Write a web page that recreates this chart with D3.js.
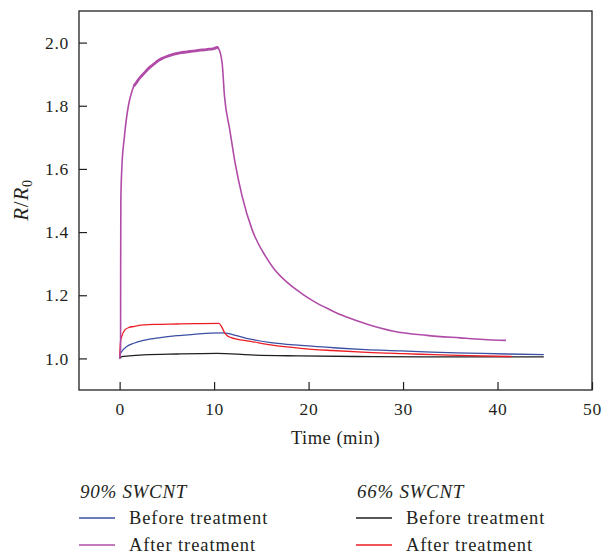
<!DOCTYPE html>
<html>
<head>
<meta charset="utf-8">
<script src="https://cdn.jsdelivr.net/npm/d3@7/dist/d3.min.js"></script>
<style>
  html, body { margin: 0; padding: 0; background: #fff; }
  svg { display: block; }
  text { font-family: "Liberation Serif", "Times New Roman", serif; fill: #231f20; }
</style>
</head>
<body>
<svg id="chart" width="607" height="554"></svg>
<script>
// ---- Data ----
const xTicks = [0, 10, 20, 30, 40, 50];
const yTicks = [1.0, 1.2, 1.4, 1.6, 1.8, 2.0];

// 90% SWCNT, before treatment (blue)
const blueT = [0, 0.05, 0.23, 0.76, 1.5, 2.53, 4.3, 6.07, 7.83, 9.6, 11.0, 12.4, 13.85, 16, 19.2, 23, 26, 29.8, 33, 36.9, 41, 44.9];
const blueV = [1.0, 1.012, 1.022, 1.038, 1.048, 1.057, 1.066, 1.072, 1.076, 1.080, 1.081, 1.072, 1.061, 1.050, 1.041, 1.033, 1.028, 1.024, 1.020, 1.017, 1.014, 1.012];

// 90% SWCNT, after treatment (purple)
const purpleT = [0, 0.1, 0.11, 0.13, 0.23, 0.5, 0.93, 1.2, 1.5, 1.75, 2.0, 2.25, 2.5, 2.75, 3.0, 3.25, 3.5, 3.75, 4.0, 4.5, 5.0, 5.5, 6.0, 6.5, 7.0, 7.5, 8.0, 8.5, 9.0, 9.5, 10.0, 10.3, 10.45, 10.85, 11.1, 11.66, 12.23, 12.97, 14.03, 15.45, 16.33, 17.8, 19.2, 20.6, 22.2, 23.4, 24.1, 26.2, 29.0, 32.5, 36.05, 38.5, 40.9];
const purpleV = [1.0, 1.03, 1.3, 1.5, 1.6, 1.7, 1.8, 1.835, 1.862, 1.872, 1.883, 1.892, 1.900, 1.908, 1.916, 1.923, 1.929, 1.935, 1.941, 1.950, 1.956, 1.961, 1.965, 1.968, 1.970, 1.972, 1.974, 1.976, 1.977, 1.979, 1.981, 1.985, 1.982, 1.935, 1.830, 1.724, 1.618, 1.513, 1.407, 1.323, 1.284, 1.239, 1.207, 1.180, 1.155, 1.138, 1.130, 1.108, 1.086, 1.073, 1.065, 1.060, 1.057];

// 66% SWCNT, before treatment (black)
const blackT = [0, 0.23, 1, 2.53, 6.07, 10.3, 13.85, 19, 25, 32, 38, 44.9];
const blackV = [1.0, 1.006, 1.008, 1.011, 1.014, 1.016, 1.011, 1.008, 1.006, 1.005, 1.005, 1.005];

// 66% SWCNT, after treatment (red)
const redT = [0, 0.1, 0.23, 0.58, 1.0, 1.46, 2.5, 4, 6.07, 8, 10.5, 10.8, 11.1, 11.4, 11.8, 12.4, 13.85, 16, 19.2, 22.5, 26.2, 30, 33.3, 37, 41.5];
const redV = [1.0, 1.055, 1.070, 1.091, 1.098, 1.101, 1.106, 1.108, 1.109, 1.110, 1.111, 1.100, 1.082, 1.072, 1.066, 1.061, 1.054, 1.043, 1.032, 1.025, 1.019, 1.015, 1.012, 1.009, 1.006];

const seriesNames = ["Before treatment", "After treatment", "Before treatment", "After treatment"];
const groupTitles = ["90% SWCNT", "66% SWCNT"];
const colors = { blue: "#3b4fa3", purple: "#b04ca8", black: "#231f20", red: "#ed1c24" };

// ---- Layout ----
const svg = d3.select("#chart");
const mLeft = 79, mRight = 592, mTop = 11, mBottom = 390;

const x = d3.scaleLinear().domain([-4.3, 50]).range([mLeft, mRight]);
const y = d3.scaleLinear().domain([0.9, 2.1]).range([mBottom, mTop]);

// frame
svg.append("rect")
  .attr("x", mLeft).attr("y", mTop)
  .attr("width", mRight - mLeft).attr("height", mBottom - mTop)
  .attr("fill", "none").attr("stroke", "#231f20").attr("stroke-width", 1.3);

// axes (ticks inward)
const xAxis = svg.append("g").attr("transform", `translate(0,${mBottom})`)
  .call(d3.axisBottom(x).tickValues(xTicks).tickSize(-8).tickPadding(13).tickFormat(d3.format("d")));
const yAxis = svg.append("g").attr("transform", `translate(${mLeft},0)`)
  .call(d3.axisLeft(y).tickValues(yTicks).tickSize(-8).tickPadding(10).tickFormat(d3.format(".1f")));
[xAxis, yAxis].forEach(g => {
  g.select(".domain").remove();
  g.selectAll(".tick line").attr("stroke", "#231f20").attr("stroke-width", 1.2);
  g.selectAll(".tick text").attr("fill", "#231f20")
    .style("font-family", '"Liberation Serif", serif')
    .style("font-size", "17.5px").style("letter-spacing", "0.7px");
});

// curves
const line = d3.line().x(d => x(d[0])).y(d => y(d[1])).curve(d3.curveMonotoneX);
const zip = (a, b) => a.map((t, i) => [t, b[i]]);
const purplePts = zip(purpleT, purpleV);
const series = [
  { pts: zip(blackT, blackV), color: colors.black, w: 1.3 },
  { pts: zip(blueT, blueV), color: colors.blue, w: 1.3 },
  { pts: zip(redT, redV), color: colors.red, w: 1.3 },
  { pts: purplePts, color: colors.purple, w: 1.6 },
  // noisy plateau of the purple trace appears as a thicker band
  { pts: purplePts.filter(d => d[0] >= 1.5 && d[0] <= 10.45), color: colors.purple, w: 2.8 }
];
svg.append("g").selectAll("path").data(series).join("path")
  .attr("d", d => line(d.pts))
  .attr("fill", "none")
  .attr("stroke", d => d.color)
  .attr("stroke-width", d => d.w)
  .attr("stroke-linejoin", "round");

// axis titles
svg.append("text")
  .attr("x", (mLeft + mRight) / 2).attr("y", 444)
  .attr("text-anchor", "middle")
  .style("font-size", "18.5px").style("letter-spacing", "0.5px")
  .text("Time (min)");

const yl = svg.append("text")
  .attr("transform", "translate(28,200) rotate(-90)")
  .attr("text-anchor", "middle")
  .style("font-size", "21px").style("letter-spacing", "0.8px");
yl.append("tspan").style("font-style", "italic").text("R");
yl.append("tspan").text("/");
yl.append("tspan").style("font-style", "italic").text("R");
yl.append("tspan").attr("dy", 4).style("font-size", "14px").text("0");

// legend
const legend = [
  { x: 80, title: groupTitles[0], items: [{ name: seriesNames[0], color: colors.blue }, { name: seriesNames[1], color: colors.purple }] },
  { x: 357, title: groupTitles[1], items: [{ name: seriesNames[2], color: colors.black }, { name: seriesNames[3], color: colors.red }] }
];
legend.forEach(col => {
  const g = svg.append("g");
  g.append("text").attr("x", col.x).attr("y", 498)
    .style("font-style", "italic").style("font-size", "19px").style("letter-spacing", "0.7px")
    .text(col.title);
  col.items.forEach((it, i) => {
    const yy = 518 + i * 27;
    g.append("line").attr("x1", col.x - 1).attr("x2", col.x + 35)
      .attr("y1", yy).attr("y2", yy)
      .attr("stroke", it.color).attr("stroke-width", 1.3);
    g.append("text").attr("x", col.x + 49).attr("y", yy + 6)
      .style("font-size", "18.5px").style("letter-spacing", "0.9px")
      .text(it.name);
  });
});
</script>
</body>
</html>
